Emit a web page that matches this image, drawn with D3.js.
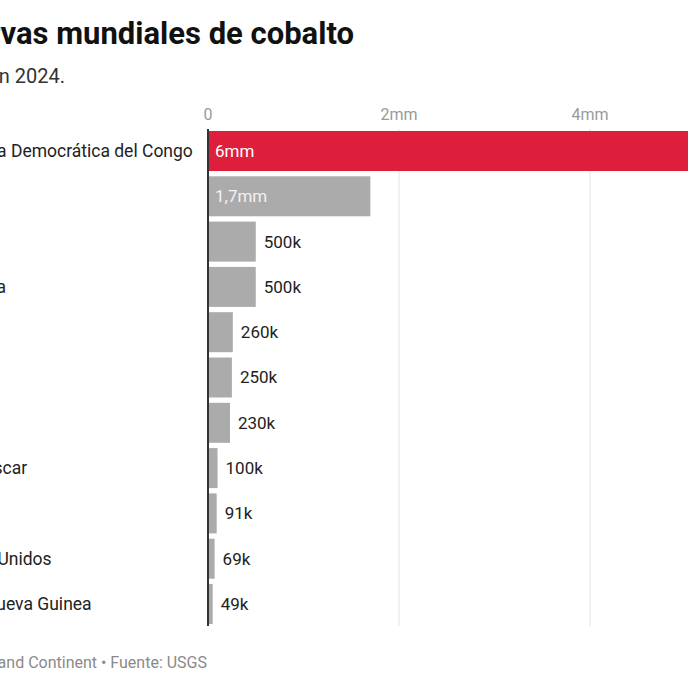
<!DOCTYPE html>
<html>
<head>
<meta charset="utf-8">
<script src="https://cdn.jsdelivr.net/npm/d3@7"></script>
<style>
  html, body { margin: 0; padding: 0; background: #fff; overflow: hidden; }
  svg { display: block; font-family: Roboto, "Noto Sans", sans-serif; }
</style>
</head>
<body>
<div id="chart"></div>
<script>
// data (USGS, reservas 2024, toneladas)
var countries = ["República Democrática del Congo", "Australia", "Cuba", "Indonesia", "Filipinas",
  "Rusia", "Canadá", "Madagascar", "Turquía", "Estados Unidos", "Papúa Nueva Guinea"];
var reserves = [6000000, 1700000, 500000, 500000, 260000, 250000, 230000, 100000, 91000, 69000, 49000];
var tickValues = [0, 2000000, 4000000, 6000000];

var titleText = "Reservas mundiales de cobalto";
var subtitleText = "Reservas de cobalto por país en 2024.";
var sourceText = "Gráfico: Island and Continent • Fuente: USGS";

var width = 688, height = 688;
var highlight = countries[0];

var rows = countries.map(function (c, i) { return { name: c, value: reserves[i] }; });

var svg = d3.select('#chart').append('svg')
  .attr('width', width)
  .attr('height', height);

// scales
var x = d3.scaleLinear().domain([0, 6000000]).range([208, 781]);
var y = d3.scaleBand().domain(countries).range([131, 624]).paddingInner(0.117).paddingOuter(0);

function fmt(v) {
  if (v === 0) return '0';
  if (v >= 1000000) return String(+(v / 1000000).toFixed(1)).replace('.', ',') + 'mm';
  return Math.round(v / 1000) + 'k';
}

// title block
svg.append('text')
  .attr('x', 354).attr('y', 44)
  .attr('text-anchor', 'end')
  .attr('fill', '#111')
  .style('font-size', '31px').style('font-weight', 'bold')
  .text(titleText);

svg.append('text')
  .attr('x', 65).attr('y', 83)
  .attr('text-anchor', 'end')
  .attr('fill', '#333')
  .style('font-size', '20px')
  .text(subtitleText);

// gridlines + tick labels
var ticks = svg.append('g').attr('class', 'ticks');
ticks.selectAll('line.grid')
  .data(tickValues.filter(function (t) { return t > 0; }))
  .enter().append('line')
  .attr('class', 'grid')
  .attr('x1', function (d) { return x(d); })
  .attr('x2', function (d) { return x(d); })
  .attr('y1', 129).attr('y2', 626)
  .attr('stroke', '#e2e2e2').attr('stroke-width', 1);

ticks.selectAll('text')
  .data(tickValues)
  .enter().append('text')
  .attr('x', function (d) { return x(d); })
  .attr('y', 120)
  .attr('text-anchor', 'middle')
  .attr('fill', '#9a9a9a')
  .style('font-size', '16px')
  .text(fmt);

// bars
var bars = svg.append('g').attr('class', 'bars')
  .selectAll('g.bar')
  .data(rows)
  .enter().append('g')
  .attr('class', 'bar');

bars.append('rect')
  .attr('x', x(0))
  .attr('y', function (d) { return y(d.name); })
  .attr('width', function (d) { return x(d.value) - x(0); })
  .attr('height', y.bandwidth())
  .attr('fill', function (d) { return d.name === highlight ? '#dd1f3c' : '#ababab'; });

// value labels: inside for the big bars, outside for the rest
bars.append('text')
  .attr('x', function (d) { return d.value >= 1000000 ? x(0) + 7 : x(d.value) + 8; })
  .attr('y', function (d) { return y(d.name) + y.bandwidth() / 2; })
  .attr('dy', '0.35em')
  .attr('fill', function (d) {
    if (d.value < 1000000) return '#222';
    return d.name === highlight ? '#fff' : '#f2f2f2';
  })
  .style('font-size', '17px')
  .text(function (d) { return fmt(d.value); });

// category labels
svg.append('g').attr('class', 'labels')
  .selectAll('text')
  .data(rows)
  .enter().append('text')
  .attr('x', -70)
  .attr('y', function (d) { return y(d.name) + y.bandwidth() / 2; })
  .attr('dy', '0.35em')
  .attr('fill', '#222')
  .style('font-size', '17.5px')
  .text(function (d) { return d.name; });

// axis line
svg.append('line')
  .attr('x1', x(0)).attr('x2', x(0))
  .attr('y1', 129).attr('y2', 626)
  .attr('stroke', '#333').attr('stroke-width', 2);

// source
svg.append('text')
  .attr('x', 207).attr('y', 668)
  .attr('text-anchor', 'end')
  .attr('fill', '#8a8a8a')
  .style('font-size', '16px')
  .text(sourceText);
</script>
</body>
</html>
